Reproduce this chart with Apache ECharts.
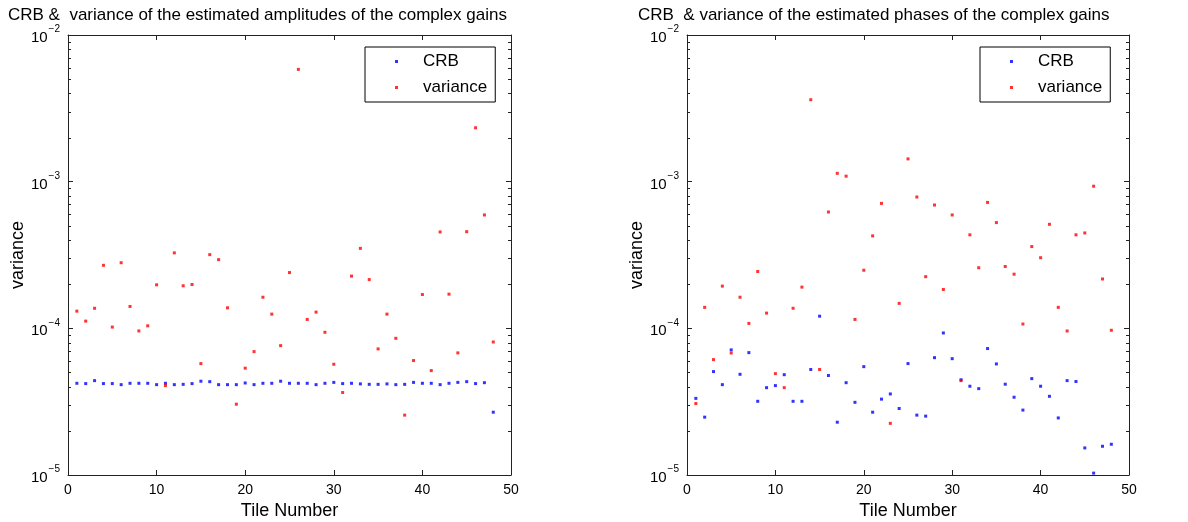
<!DOCTYPE html>
<html>
<head>
<meta charset="utf-8">
<title>CRB and variance of complex gain estimates</title>
<script src="https://cdn.jsdelivr.net/npm/echarts@6/dist/echarts.min.js"></script>
<style>
  html, body { margin: 0; padding: 0; background: #fff; }
  #chart { width: 1188px; height: 522px; }
</style>
</head>
<body>
<div id="chart"></div>
<script>
// Tile indices 1..48
const tiles = [1,2,3,4,5,6,7,8,9,10,11,12,13,14,15,16,17,18,19,20,21,22,23,24,
               25,26,27,28,29,30,31,32,33,34,35,36,37,38,39,40,41,42,43,44,45,46,47,48];

// Amplitudes: Cramer-Rao bound and empirical variance per tile
const ampCRB = [4.22e-5,4.20e-5,4.40e-5,4.20e-5,4.20e-5,4.13e-5,4.22e-5,4.22e-5,4.22e-5,4.13e-5,
                4.22e-5,4.13e-5,4.15e-5,4.20e-5,4.36e-5,4.33e-5,4.13e-5,4.13e-5,4.13e-5,4.24e-5,
                4.13e-5,4.22e-5,4.22e-5,4.36e-5,4.22e-5,4.22e-5,4.22e-5,4.13e-5,4.22e-5,4.28e-5,
                4.20e-5,4.22e-5,4.18e-5,4.15e-5,4.15e-5,4.18e-5,4.13e-5,4.15e-5,4.28e-5,4.22e-5,
                4.22e-5,4.13e-5,4.22e-5,4.28e-5,4.33e-5,4.20e-5,4.26e-5,2.68e-5];
const ampVar = [1.31e-4,1.12e-4,1.37e-4,2.69e-4,1.02e-4,2.80e-4,1.41e-4,9.6e-5,1.04e-4,1.98e-4,
                4.07e-5,3.27e-4,1.95e-4,1.99e-4,5.75e-5,3.18e-4,2.94e-4,1.38e-4,3.04e-5,5.35e-5,
                6.94e-5,1.63e-4,1.25e-4,7.62e-5,2.40e-4,5.83e-3,1.15e-4,1.29e-4,9.4e-5,5.69e-5,
                3.65e-5,2.27e-4,3.51e-4,2.15e-4,7.24e-5,1.25e-4,8.55e-5,2.56e-5,6.03e-5,1.70e-4,
                5.15e-5,4.54e-4,1.71e-4,6.80e-5,4.56e-4,2.33e-3,5.93e-4,8.07e-5];

// Phases: Cramer-Rao bound and empirical variance per tile
const phaCRB = [3.33e-5,2.48e-5,5.07e-5,4.13e-5,7.13e-5,4.86e-5,6.83e-5,3.18e-5,3.94e-5,4.07e-5,
                4.83e-5,3.18e-5,3.18e-5,5.24e-5,1.21e-4,4.77e-5,2.29e-5,4.26e-5,3.13e-5,5.48e-5,
                2.68e-5,3.29e-5,3.57e-5,2.84e-5,5.75e-5,2.56e-5,2.52e-5,6.31e-5,9.30e-5,6.21e-5,
                4.46e-5,4.03e-5,3.88e-5,7.28e-5,5.72e-5,4.16e-5,3.39e-5,2.77e-5,4.54e-5,4.03e-5,
                3.44e-5,2.45e-5,4.40e-5,4.34e-5,1.53e-5,1.03e-5,1.57e-5,1.62e-5];
const phaVar = [3.07e-5,1.39e-4,6.12e-5,1.94e-4,6.79e-5,1.63e-4,1.08e-4,2.44e-4,1.27e-4,4.91e-5,
                3.94e-5,1.37e-4,1.91e-4,3.62e-3,5.24e-5,6.21e-4,1.14e-3,1.09e-3,1.15e-4,2.49e-4,
                4.27e-4,7.11e-4,2.25e-5,1.48e-4,1.43e-3,7.86e-4,2.25e-4,6.93e-4,1.84e-4,5.93e-4,
                4.40e-5,4.34e-4,2.59e-4,7.22e-4,5.26e-4,2.64e-4,2.34e-4,1.07e-4,3.61e-4,3.03e-4,
                5.12e-4,1.39e-4,9.59e-5,4.34e-4,4.47e-4,9.31e-4,2.17e-4,9.70e-5];

// Axis ranges and tick marks
const xTicks = [0, 10, 20, 30, 40, 50];
const yMin = 1e-5, yMax = 1e-2;
const minorTicks = [2e-5,3e-5,4e-5,5e-5,6e-5,7e-5,8e-5,9e-5,
                    2e-4,3e-4,4e-4,5e-4,6e-4,7e-4,8e-4,9e-4,
                    2e-3,3e-3,4e-3,5e-3,6e-3,7e-3,8e-3,9e-3];

const titles = [
  'CRB &  variance of the estimated amplitudes of the complex gains',
  'CRB  & variance of the estimated phases of the complex gains'
];

const FONT = '"Liberation Sans", Arial, sans-serif';
const AXIS_COLOR = '#222';
const grids = [
  { left: 68, right: 677, top: 35, bottom: 47, outerBoundsMode: 'none', containLabel: false },
  { left: 687, right: 59, top: 35, bottom: 47, outerBoundsMode: 'none', containLabel: false }
];

const zip = (xs, ys) => xs.map((x, i) => [x, ys[i]]);

function bottomX(gi) {
  return {
    type: 'value', gridIndex: gi, min: xTicks[0], max: xTicks[xTicks.length - 1], interval: 10,
    name: 'Tile Number', nameLocation: 'middle', nameGap: 25,
    nameTextStyle: { fontFamily: FONT, fontSize: 18, color: '#000' },
    axisLine: { show: true, onZero: false, lineStyle: { color: AXIS_COLOR, width: 1 } },
    axisTick: { show: true, inside: true, length: 5, lineStyle: { color: AXIS_COLOR } },
    axisLabel: { fontFamily: FONT, fontSize: 14, color: '#000', margin: 8 },
    splitLine: { show: false }
  };
}
function topX(gi) {
  return {
    type: 'value', gridIndex: gi, position: 'top', min: 0, max: 50, interval: 10,
    axisLine: { show: true, onZero: false, lineStyle: { color: AXIS_COLOR, width: 1 } },
    axisTick: { show: true, inside: true, length: 5, lineStyle: { color: AXIS_COLOR } },
    axisLabel: { show: false }, splitLine: { show: false }
  };
}
function leftY(gi) {
  return {
    type: 'log', logBase: 10, gridIndex: gi, min: yMin, max: yMax,
    name: 'variance', nameLocation: 'middle', nameGap: 40, nameRotate: 90,
    nameTextStyle: { fontFamily: FONT, fontSize: 18, color: '#000' },
    axisLine: { show: true, onZero: false, lineStyle: { color: AXIS_COLOR, width: 1 } },
    axisTick: { show: true, inside: true, length: 5, lineStyle: { color: AXIS_COLOR } },
    axisLabel: {
      margin: 8,
      formatter: v => '{b|10}{e|\u2212' + Math.abs(Math.round(Math.log10(v))) + '}',
      rich: {
        b: { fontFamily: FONT, fontSize: 15, color: '#000', padding: [6, 0, 0, 0] },
        e: { fontFamily: FONT, fontSize: 10, color: '#000', verticalAlign: 'top', padding: [0, 0, 7, 1] }
      }
    },
    splitLine: { show: false }
  };
}
function rightY(gi) {
  return {
    type: 'log', logBase: 10, gridIndex: gi, position: 'right', min: yMin, max: yMax,
    axisLine: { show: true, onZero: false, lineStyle: { color: AXIS_COLOR, width: 1 } },
    axisTick: { show: true, inside: true, length: 5, lineStyle: { color: AXIS_COLOR } },
    axisLabel: { show: false }, splitLine: { show: false }
  };
}

// Minor log ticks (2..9 x 10^k) on both vertical frame edges
function minorTickSeries(gi) {
  return {
    type: 'custom', xAxisIndex: gi, yAxisIndex: gi, silent: true, clip: false, z: 5,
    data: minorTicks.map(v => [0, v]),
    renderItem: (params, api) => {
      const cs = params.coordSys;
      const y = Math.round(api.coord([0, api.value(1)])[1]) + 0.5;
      const style = { stroke: AXIS_COLOR, lineWidth: 1 };
      return {
        type: 'group',
        children: [
          { type: 'line', shape: { x1: cs.x, y1: y, x2: cs.x + 3, y2: y }, style },
          { type: 'line', shape: { x1: cs.x + cs.width - 3, y1: y, x2: cs.x + cs.width, y2: y }, style }
        ]
      };
    }
  };
}

function scatter(name, gi, data, color) {
  return {
    name, type: 'scatter', xAxisIndex: gi, yAxisIndex: gi,
    data, symbol: 'rect', symbolSize: 3,
    itemStyle: { color }, z: 10, silent: true
  };
}

function legend(gi, left) {
  return {
    show: true, orient: 'vertical', left, top: 47,
    data: [
      { name: 'CRB' + gi, itemStyle: { color: '#0000ff' } },
      { name: 'variance' + gi, itemStyle: { color: '#ff0000' } }
    ],
    formatter: n => n.replace(/\d+$/, ''),
    icon: 'rect', itemWidth: 3, itemHeight: 3, itemGap: 9,
    padding: [6, 8, 6, 30],
    borderColor: '#000', borderWidth: 1, backgroundColor: '#fff',
    textStyle: { fontFamily: FONT, fontSize: 17, color: '#000', padding: [0, 0, 0, 20] },
    selectedMode: false
  };
}

const option = {
  backgroundColor: '#fff',
  animation: false,
  title: [
    { text: titles[0], left: 3, top: 2, textStyle: { fontFamily: FONT, fontSize: 17, fontWeight: 'normal', color: '#000' } },
    { text: titles[1], left: 633, top: 2, textStyle: { fontFamily: FONT, fontSize: 17, fontWeight: 'normal', color: '#000' } }
  ],
  grid: grids,
  xAxis: [bottomX(0), bottomX(1), topX(0), topX(1)],
  yAxis: [leftY(0), leftY(1), rightY(0), rightY(1)],
  legend: [legend(0, 365), legend(1, 980)],
  series: [
    scatter('CRB0', 0, zip(tiles, ampCRB), '#0000ff'),
    scatter('variance0', 0, zip(tiles, ampVar), '#ff0000'),
    scatter('CRB1', 1, zip(tiles, phaCRB), '#0000ff'),
    scatter('variance1', 1, zip(tiles, phaVar), '#ff0000'),
    minorTickSeries(0),
    minorTickSeries(1)
  ]
};

const chart = echarts.init(document.getElementById('chart'), null, { renderer: 'canvas' });
chart.setOption(option);
</script>
</body>
</html>
